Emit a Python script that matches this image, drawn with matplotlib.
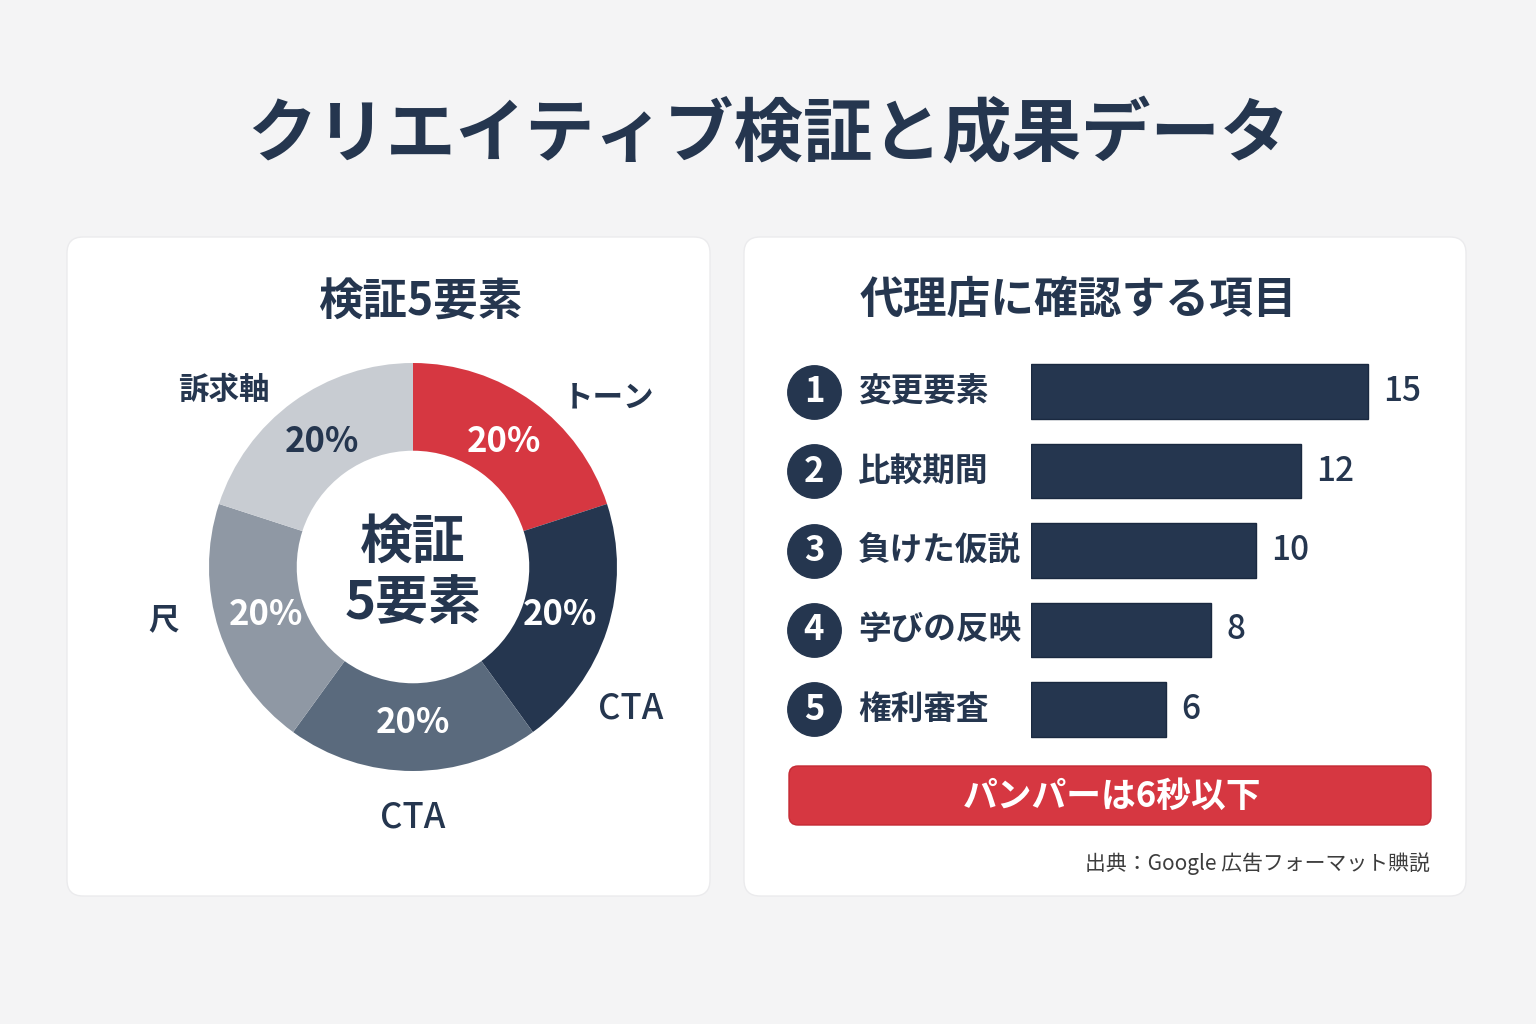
import numpy as np
import matplotlib
matplotlib.use("Agg")
from matplotlib import pyplot as plt
from matplotlib.patches import FancyBboxPatch
import matplotlib.transforms as mtransforms

plt.rcParams['font.family'] = ['Noto Sans CJK JP', 'DejaVu Sans']

# data
title = "クリエイティブ検証と成果データ"
pie_title = "検証5要素"
pie_labels = ["トーン", "CTA", "CTA", "尺", "訴求軸"]
pie_values = [20, 20, 20, 20, 20]
pie_center = "検証\n5要素"

bar_title = "代理店に確認する項目"
bar_labels = ["変更要素", "比較期間", "負けた仮説", "学びの反映", "権利審査"]
bar_values = [15, 12, 10, 8, 6]
banner_text = "パンパーは6秒以下"
source_text = "出典：Google 広吿フォーマット賟説"

NAVY = "#25364f"
RED = "#d63741"
pie_colors = [RED, NAVY, "#5a6a7d", "#8f98a4", "#c8ccd2"]
pct_colors = ["white", "white", "white", "white", NAVY]
label_shift = [-13, -15, 0, -6, 11]   # degrees, outer label nudges
label_dist = [1.27, 1.27, 1.23, 1.25, 1.27]

W, H = 1536, 1024
fig = plt.figure(figsize=(W / 100, H / 100), dpi=100)
fig.patch.set_facecolor("#f4f4f5")

bg = fig.add_axes([0, 0, 1, 1])
bg.set_xlim(0, W)
bg.set_ylim(H, 0)
bg.axis("off")

for x0, w in [(67, 643), (744, 722)]:
    bg.add_patch(FancyBboxPatch((x0, 237), w, 659,
                                boxstyle="round,pad=0,rounding_size=16",
                                fc="white", ec="#ebebed", lw=1))

bg.text(768, 135, title, ha="center", va="center", fontsize=50,
        fontweight="bold", color=NAVY)
bg.text(420, 302, pie_title, ha="center", va="center", fontsize=32,
        fontweight="bold", color=NAVY)
bg.text(1078, 300, bar_title, ha="center", va="center", fontsize=31.5,
        fontweight="bold", color=NAVY)

# donut
cx, cy, r = 413, 567, 204
axp = fig.add_axes([(cx - r) / W, (H - cy - r) / H, 2 * r / W, 2 * r / H])
wedges, texts, autotexts = axp.pie(
    pie_values, colors=pie_colors, startangle=90, counterclock=False,
    radius=1, wedgeprops=dict(width=0.43, edgecolor="none"),
    autopct="%d%%", pctdistance=0.76)
axp.set_xlim(-1, 1)
axp.set_ylim(-1, 1)
axp.set_aspect("equal")
for t, c in zip(autotexts, pct_colors):
    t.set_color(c)
    t.set_fontsize(25)
    t.set_fontweight("bold")
for w, lab, sh, d in zip(wedges, pie_labels, label_shift, label_dist):
    ang = np.deg2rad((w.theta1 + w.theta2) / 2 + sh)
    axp.text(d * np.cos(ang), d * np.sin(ang), lab, ha="center",
             va="center", fontsize=22 if lab != "CTA" else 25,
             fontweight="bold" if lab != "CTA" else "medium", color=NAVY,
             clip_on=False)
axp.text(0, -0.03, pie_center, ha="center", va="center", fontsize=38,
         fontweight="bold", color=NAVY, linespacing=1.2)

# bars
bx0, bx1 = 1031, 1431
ytop, ybot = 352, 749
axb = fig.add_axes([bx0 / W, (H - ybot) / H, (bx1 - bx0) / W, (ybot - ytop) / H])
axb.patch.set_alpha(0)
pos = np.arange(len(bar_values))
axb.barh(pos, bar_values, height=0.69, color=NAVY, edgecolor="#1a2940", lw=1)
axb.set_xlim(0, (bx1 - bx0) / 22.47)
axb.set_ylim(len(bar_values) - 0.5, -0.5)
axb.axis("off")
for p, v in zip(pos, bar_values):
    axb.annotate(str(v), (v, p), xytext=(11, 0), textcoords="offset points",
                 ha="left", va="center", fontsize=24, color=NAVY,
                 fontweight="medium")
blend = mtransforms.blended_transform_factory(axb.transAxes, axb.transData)
axb.scatter(np.full(len(pos), -0.5425), pos, s=1480, color=NAVY,
            transform=blend, clip_on=False, zorder=3)
for p, lab in zip(pos, bar_labels):
    axb.text(-0.5425, p, str(p + 1), transform=blend, ha="center",
             va="center", fontsize=25, fontweight="bold", color="white",
             zorder=4)
    axb.text(-0.4325, p, lab, transform=blend, ha="left", va="center",
             fontsize=23.5, fontweight="bold", color=NAVY)

bg.add_patch(FancyBboxPatch((789, 766), 642, 59,
                            boxstyle="round,pad=0,rounding_size=9",
                            fc=RED, ec="#c42a34", lw=1))
bg.text(1112, 796, banner_text, ha="center", va="center", fontsize=25,
        fontweight="bold", color="white")
bg.text(1430, 864, source_text, ha="right", va="center", fontsize=15,
        color="#3d3d3d")

fig.savefig("out.png", dpi=100, facecolor=fig.get_facecolor())
